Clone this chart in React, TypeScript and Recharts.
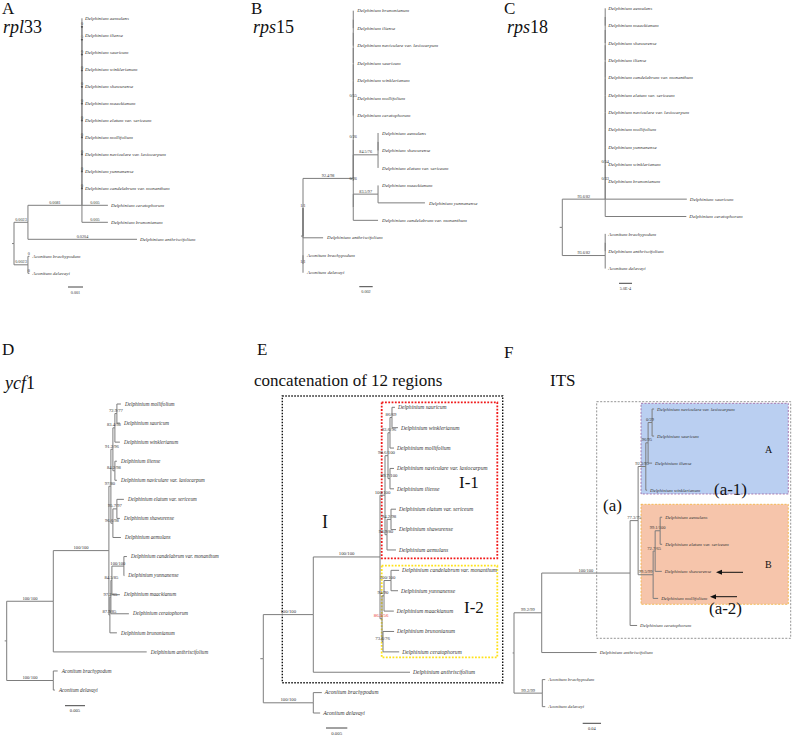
import { ComposedChart, Line, Scatter, XAxis, YAxis } from 'recharts';

const SERIF = '"Liberation Serif", "Times New Roman", serif';
const BRANCH = '#7d7d7d';

// taxon codes used inside the Newick strings
const taxa: Record<string, string> = {
  aem: 'Delphinium aemulans',
  ili: 'Delphinium iliense',
  sau: 'Delphinium sauricum',
  win: 'Delphinium winklerianum',
  sha: 'Delphinium shawurense',
  maa: 'Delphinium maackianum',
  ela: 'Delphinium elatum var. sericeum',
  mol: 'Delphinium mollifolium',
  nav: 'Delphinium naviculare var. lasiocarpum',
  yun: 'Delphinium yunnanense',
  can: 'Delphinium candelabrum var. monanthum',
  cer: 'Delphinium ceratophorum',
  bru: 'Delphinium brunonianum',
  ant: 'Delphinium anthriscifolium',
  abr: 'Aconitum brachypodum',
  ade: 'Aconitum delavayi',
};

// Trees in Newick. Internal names = support / branch labels, [..] after a tip = its branch label,
// [&y=..] pins a node to a leaf row (the ladders were drawn that way in the original).
const rpl33Tree = `
((
  ((((((((((((aem:0,ili:0)0:0,sau:0)0:0,win:0)0:0,sha:0)0:0,maa:0)0:0,ela:0)0:0,mol:0)0:0,nav:0)0:0,yun:0)0:0,can:0)0:0,
  cer[0.005]:0.00173)0:0,bru[0.005]:0.00173)0.0081:0.0036,
  ant[0.0204]:0.00727
 )0.0023:0.00093,
 (abr[0]:0.0001,ade[0]:0.0001)0.0023:0.00093
):0.00013`;

const rps15Tree = `
(
 ((
   ((((((bru:0,ili:0):0,nav:0):0,sau:0):0,win:0):0,mol:0):0,cer:0)0/55:0,
   (
    ((aem:0,sha:0):0,ela:0)84.5/76:0.0037,
    ((maa:0,yun:0.007)83.5/97:0.0037,can:0.0037):0
   )0/26:0
  )0/26:0
 )92.4/98[&y=9.6]:0.0075,
 (ant:0.003,(abr:0,ade:0)1/1:0)1/1[&y=11.3]:0
)[&y=12.9]:0.0003`;

const rps18Tree = `
(
 ((((((((((((aem:0,maa:0):0,sha:0):0,ili:0):0,can:0):0,ela:0):0,nav:0):0,mol:0):0,yun:0):0,win:0):0,bru:0)0/54:0,
 sau:0.00314)0/33:0,cer:0.00312)93.6/82:0.00165,
 ((abr:0,ant:0):0,ade:0)93.6/82:0.00165
):0.0001`;

const ycf1Tree = `
(
 ((
   ((((mol:0.001,sau:0.00075)72.9/77:0.0005,win:0.00125)83.4/98:0.0005,(ili:0.0005,nav:0.0005)84.2/98:0.0005)91.2/96:0.0005,
    ((ela:0.00175,sha:0.00075)95.7/97:0.001,aem:0.002)96.6/98:0.0005)97/80:0.0005,
   ((((can:0.00075,yun:0.0001)100/100:0.003,maa:0.002)84.5/85:0.00025,cer:0.0045)97.2/65:0.00025,bru:0.00175)87.9/85:0.00025
  )100/100:0.0139,
  ant:0.02335
 )100/100:0.01165,
 (abr:0.0011,ade:0.0004)100/100:0.01165
):0.0005`;

const concatTree = `
(
 ((
   ((((sau:0.0007,win:0.0014)86/69:0.00047,mol:0.00094)83.6/96:0.00047,(nav:0.00094,ili:0.00094)99.7/100:0.00047)98.6/100:0.0007,
    ((ela:0.00117,sha:0.00117)94.2/98:0.00094,aem:0.0021)98.9/80:0.00047)100/100:0.00117,
   (((can:0.0019,yun:0.00164)100/100:0.00164,maa:0.0023)94/90:0.00047,(bru:0.0026,cer:0.0038)73.6/76:0.00023)86.3/56:0.00047
  )100/100:0.01566,
  ant:0.0227
 )100/100:0.01174,
 (abr:0.002,ade:0.0016)100/100:0.01174
):0.0007`;

const itsTree = `
(
 (((
    (((nav:0.0044,sau:0.0044)0/29:0.0087,ili:0.0087)96/95:0.005,win:0.0028)92.3/95:0.0168,
    (((aem:0.0044,ela:0.0044)99.1/100:0.0109,sha:0.0146)72.7/65:0.0044,mol:0.0109)99.5/99:0.0328
   )77.3/75:0.0175,
   cer:0.0153
  )100/100:0.193,
  ant:0.12
 )99.2/99:0.0605,
 (abr:0.0065,ade:0.0065)99.2/99:0.0618
):0.003`;

const redLabels = ['86.3/56'];

type TNode = { name: string; note: string; len: number; kids: TNode[]; x: number; y: number };

function parseNewick(src: string): TNode {
  const s = src.replace(/\s+/g, '');
  let i = 0;
  const read = (): TNode => {
    const n: TNode = { name: '', note: '', len: 0, kids: [], x: 0, y: 0 };
    if (s[i] === '(') {
      i++;
      n.kids.push(read());
      while (s[i] === ',') {
        i++;
        n.kids.push(read());
      }
      i++; // ')'
    }
    while (i < s.length && !'(),:;['.includes(s[i])) n.name += s[i++];
    if (s[i] === '[') {
      const j = s.indexOf(']', i);
      n.note = s.slice(i + 1, j);
      i = j + 1;
    }
    if (s[i] === ':') {
      i++;
      let num = '';
      while (i < s.length && !'(),;['.includes(s[i])) num += s[i++];
      n.len = parseFloat(num);
    }
    return n;
  };
  return read();
}

type Pt = { x: number; y: number | null };

function buildTree(src: string) {
  const root = parseNewick(src);
  let row = 0;
  const place = (n: TNode, x: number) => {
    n.x = x;
    if (!n.kids.length) {
      n.y = row++;
      return;
    }
    n.kids.forEach((k) => place(k, x + k.len));
    const pin = n.note.startsWith('&y=') ? parseFloat(n.note.slice(3)) : null;
    n.y = pin ?? (n.kids[0].y + n.kids[n.kids.length - 1].y) / 2;
  };
  place(root, 0);

  const segs: Pt[] = [{ x: -root.len, y: root.y }, { x: 0, y: root.y }, { x: 0, y: null }];
  const tips: { x: number; y: number; name: string }[] = [];
  const labels: { x: number; y: number; text: string }[] = [];
  const knots: { x: number; y: number }[] = [];
  const walk = (n: TNode) => {
    n.kids.forEach((k) => {
      segs.push({ x: n.x, y: n.y }, { x: n.x, y: k.y }, { x: k.x, y: k.y }, { x: k.x, y: null });
      const text = k.kids.length ? k.name : k.note && !k.note.startsWith('&') ? k.note : '';
      if (text) labels.push({ x: (n.x + k.x) / 2, y: k.y, text });
      if (!k.kids.length) tips.push({ x: k.x, y: k.y, name: taxa[k.name] ?? k.name });
      else if (k.len === 0) knots.push({ x: k.x, y: k.y });
      walk(k);
    });
  };
  walk(root);
  return { segs, tips, labels, knots };
}

interface Panel {
  tree: string;
  left: number;
  top: number;
  w: number;
  h: number;
  rootX: number;
  firstY: number;
  step: number;
  ppu: number;
  barX: number;
  barY: number;
  barV: number;
  barT: string;
  leafFs: number;
  labFs: number;
  off: number;
  dots?: boolean;
}

const panels: Panel[] = [
  { tree: rpl33Tree, left: 0, top: 0, w: 252, h: 300, rootX: 14, firstY: 18.3, step: 17.0, ppu: 15000, barX: 68, barY: 287, barV: 0.001, barT: '0.001', leafFs: 5, labFs: 4.2, off: 3, dots: true },
  { tree: rps15Tree, left: 252, top: 0, w: 253, h: 300, rootX: 303, firstY: 10.7, step: 17.47, ppu: 6700, barX: 359.3, barY: 286.7, barV: 0.002, barT: '0.002', leafFs: 5, labFs: 4.2, off: 4 },
  { tree: rps18Tree, left: 505, top: 0, w: 288, h: 300, rootX: 562.3, firstY: 8.3, step: 17.35, ppu: 26000, barX: 619, barY: 283.3, barV: 0.0005, barT: '5.0E-4', leafFs: 5, labFs: 4.2, off: 3 },
  { tree: ycf1Tree, left: 0, top: 395, w: 255, h: 342, rootX: 6.7, firstY: 404, step: 19.07, ppu: 4000, barX: 65, barY: 705.7, barV: 0.005, barT: '0.005', leafFs: 5.2, labFs: 4.6, off: 4 },
  { tree: concatTree, left: 255, top: 395, w: 250, h: 342, rootX: 263.3, firstY: 407.3, step: 20.38, ppu: 4260, barX: 326, barY: 728, barV: 0.005, barT: '0.005', leafFs: 5.6, labFs: 4.8, off: 3 },
  { tree: itsTree, left: 505, top: 395, w: 288, h: 342, rootX: 514, firstY: 409, step: 27.06, ppu: 458, barX: 582.7, barY: 723.3, barV: 0.04, barT: '0.04', leafFs: 4.8, labFs: 4.5, off: 3 },
];

function TreeChart({ p }: { p: Panel }) {
  const { segs, tips, labels, knots } = buildTree(p.tree);
  const toX = (px: number) => (px - p.rootX) / p.ppu;
  const toY = (py: number) => (py - p.firstY) / p.step;
  const bx = toX(p.barX);
  const by = toY(p.barY);
  const bar = [{ x: bx, y: by }, { x: bx + p.barV, y: by }];
  const barLabel = [{ x: bx + p.barV / 2, y: by, text: p.barT }];

  const tipShape = (props: any) => (
    <text x={props.cx + p.off} y={props.cy} dy={p.leafFs * 0.33} fontSize={p.leafFs} fontStyle="italic" fontFamily={SERIF} fill="#333">
      {props.payload.name}
    </text>
  );
  const labelShape = (props: any) => (
    <text x={props.cx} y={props.cy - 1.5} textAnchor="middle" fontSize={p.labFs} fontFamily={SERIF}
      fill={redLabels.includes(props.payload.text) ? '#e8322a' : '#333'}>
      {props.payload.text}
    </text>
  );
  const barShape = (props: any) => (
    <text x={props.cx} y={props.cy + 6.5} textAnchor="middle" fontSize={p.labFs} fontFamily={SERIF} fill="#333">
      {props.payload.text}
    </text>
  );
  const knotShape = (props: any) => <circle cx={props.cx} cy={props.cy} r={1.1} fill="#555" />;

  return (
    <div style={{ position: 'absolute', left: p.left, top: p.top }}>
      <ComposedChart width={p.w} height={p.h} margin={{ top: 0, right: 0, bottom: 0, left: 0 }}>
        <XAxis type="number" dataKey="x" domain={[toX(p.left), toX(p.left + p.w)]} allowDataOverflow hide />
        <YAxis type="number" dataKey="y" domain={[toY(p.top), toY(p.top + p.h)]} allowDataOverflow reversed hide />
        <Line data={segs} dataKey="y" type="linear" stroke={BRANCH} strokeWidth={1} dot={false} activeDot={false}
          connectNulls={false} isAnimationActive={false} />
        <Line data={bar} dataKey="y" type="linear" stroke="#444" strokeWidth={1} dot={false} activeDot={false}
          isAnimationActive={false} />
        {p.dots && <Scatter data={knots} shape={knotShape} isAnimationActive={false} />}
        <Scatter data={tips} shape={tipShape} isAnimationActive={false} />
        <Scatter data={labels} shape={labelShape} isAnimationActive={false} />
        <Scatter data={barLabel} shape={barShape} isAnimationActive={false} />
      </ComposedChart>
    </div>
  );
}

export default function App() {
  return (
    <div style={{ position: 'absolute', left: 0, top: 0, width: 793, height: 737, background: '#fff', fontFamily: SERIF, overflow: 'hidden' }}>
      {/* clade boxes behind the trees */}
      <svg width={793} height={737} style={{ position: 'absolute', left: 0, top: 0 }}>
        <rect x={282.3} y={396} width={220.4} height={286.7} fill="none" stroke="#111" strokeWidth={1.4} strokeDasharray="1.5 1.5" />
        <rect x={381.7} y={402.3} width={115.6} height={156} fill="none" stroke="#f01818" strokeWidth={1.8} strokeDasharray="1.8 1.5" />
        <rect x={381.7} y={565.7} width={115.6} height={91.6} fill="none" stroke="#ffe21a" strokeWidth={1.8} strokeDasharray="1.8 1.5" />
        <rect x={596.7} y={401.7} width={194} height={236.6} fill="none" stroke="#777" strokeWidth={0.8} strokeDasharray="2 1.5" />
        <rect x={641} y={403.3} width={147.3} height={90.7} fill="#bacff1" stroke="#9b5d9e" strokeWidth={0.8} strokeDasharray="2 1.5" />
        <rect x={641} y={504.3} width={147.3} height={100} fill="#f6c5ab" stroke="#f3b23a" strokeWidth={0.8} strokeDasharray="2 1.5" />
      </svg>

      {panels.map((p, i) => (
        <TreeChart key={i} p={p} />
      ))}

      {/* panel letters, titles and annotations */}
      <svg width={793} height={737} style={{ position: 'absolute', left: 0, top: 0 }} fontFamily={SERIF} fill="#111">
        <text x={2} y={13.5} fontSize={17}>A</text>
        <text x={251} y={13.5} fontSize={17}>B</text>
        <text x={504} y={13.5} fontSize={17}>C</text>
        <text x={2} y={355} fontSize={17}>D</text>
        <text x={257} y={355} fontSize={17}>E</text>
        <text x={504} y={358} fontSize={17}>F</text>

        <text x={3} y={33} fontSize={18}><tspan fontStyle="italic">rpl</tspan>33</text>
        <text x={253} y={33} fontSize={18}><tspan fontStyle="italic">rps</tspan>15</text>
        <text x={507} y={33} fontSize={18}><tspan fontStyle="italic">rps</tspan>18</text>
        <text x={5} y={389} fontSize={18}><tspan fontStyle="italic">ycf</tspan>1</text>
        <text x={254} y={386} fontSize={17}>concatenation of 12 regions</text>
        <text x={550} y={386} fontSize={17}>ITS</text>

        <text x={322} y={528} fontSize={18}>I</text>
        <text x={459} y={488} fontSize={17}>I-1</text>
        <text x={464} y={613} fontSize={17}>I-2</text>

        <text x={765} y={453} fontSize={10}>A</text>
        <text x={765} y={568} fontSize={10}>B</text>
        <text x={714} y={495} fontSize={17}>(a-1)</text>
        <text x={603} y={511} fontSize={17}>(a)</text>
        <text x={709} y={614} fontSize={17}>(a-2)</text>

        <line x1={743} y1={572.3} x2={720} y2={572.3} stroke="#111" strokeWidth={1} />
        <polygon points="716,572.3 722,569.8 722,574.8" fill="#111" />
        <line x1={737} y1={596.7} x2={714} y2={596.7} stroke="#111" strokeWidth={1} />
        <polygon points="710,596.7 716,594.2 716,599.2" fill="#111" />
      </svg>
    </div>
  );
}
